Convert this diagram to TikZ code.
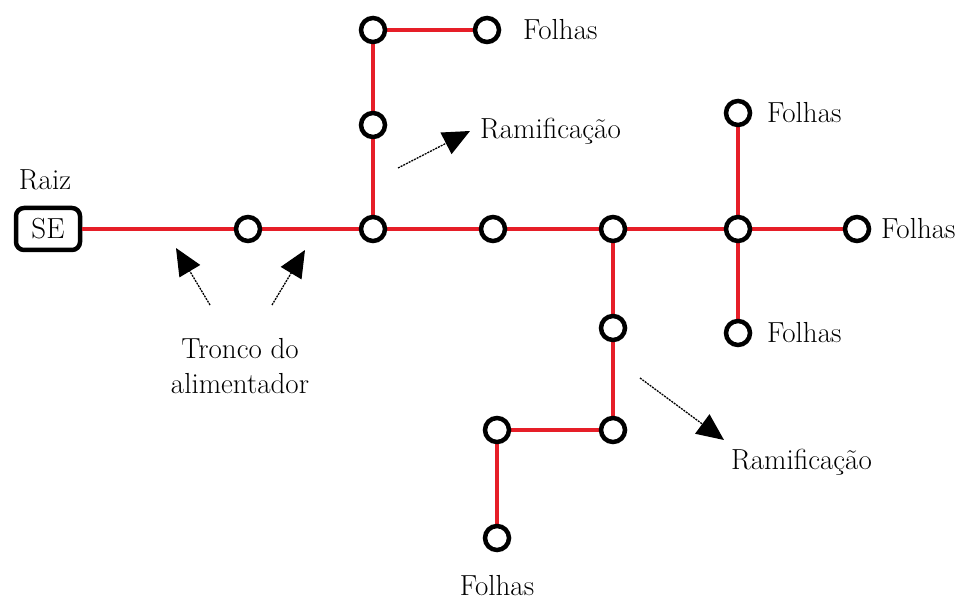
\documentclass[tikz,border=0pt]{standalone}
\usepackage{fontspec}
\newfontfamily\lmfont{Latin Modern Roman}
\usetikzlibrary{arrows.meta}
\definecolor{feeder}{RGB}{230,30,40}
\begin{document}
\begin{tikzpicture}[x=1pt,y=-1pt,
  bus/.style={circle,draw=black,line width=4.5pt,fill=white,minimum size=24pt,inner sep=0pt},
  line/.style={draw=feeder,line width=4pt},
  lbl/.style={font=\lmfont\fontsize{29}{35}\selectfont,inner sep=0pt},
  pointer/.style={line width=1.3pt,dash pattern=on 2pt off 1pt,-{Triangle[length=27pt,width=24pt]}},
  sebox/.style={draw=black,line width=4.5pt,rounded corners=8pt,minimum width=64pt,minimum height=42pt,inner sep=0pt,font=\lmfont\fontsize{29}{35}\selectfont}]
\useasboundingbox (0,0) rectangle (968,601);
% nodes
\node[sebox] (se) at (48,229) {SE};
\coordinate (n1) at (248,229);
\coordinate (n2) at (373,229);
\coordinate (n3) at (493,229);
\coordinate (n4) at (613,229);
\coordinate (n5) at (738,229);
\coordinate (n6) at (857,229);
\coordinate (u1) at (373,125);
\coordinate (u2) at (373,30);
\coordinate (u3) at (487,30);
\coordinate (r1) at (738,113);
\coordinate (r2) at (738,333);
\coordinate (d1) at (613,328);
\coordinate (d2) at (613,430);
\coordinate (d3) at (497,430);
\coordinate (d4) at (497,538);
% lines
\draw[line] (se.east) -- (n1) -- (n2) -- (n3) -- (n4) -- (n5) -- (n6);
\draw[line] (n2) -- (u1) -- (u2) -- (u3);
\draw[line] (r1) -- (n5) -- (r2);
\draw[line] (n4) -- (d1) -- (d2) -- (d3) -- (d4);
% bus circles
\foreach \p in {n1,n2,n3,n4,n5,n6,u1,u2,u3,r1,r2,d1,d2,d3,d4}
  \node[bus] at (\p) {};
% labels
\node[lbl] (raiz) at (45,180) {Raiz};
\node[lbl,anchor=west] (f1) at (523,30) {Folhas};
\node[lbl,anchor=west] (f2) at (767,113) {Folhas};
\node[lbl,anchor=west] (f3) at (881,229) {Folhas};
\node[lbl,anchor=west] (f4) at (767,333) {Folhas};
\node[lbl] (f5) at (497,586) {Folhas};
\node[lbl,anchor=west] (ram1) at (480,131) {Ramificação};
\node[lbl,anchor=west] (ram2) at (731,462) {Ramificação};
\node[lbl,align=center] (tronco) at (240,366) {Tronco do\\alimentador};
% pointer arrows
\coordinate (a1s) at (210,305);
\coordinate (a1e) at (176,248);
\coordinate (a2s) at (272,305);
\coordinate (a2e) at (305,250);
\coordinate (a3s) at (398,168);
\coordinate (a3e) at (470,131);
\coordinate (a4s) at (640,378);
\coordinate (a4e) at (724,440);
\draw[pointer] (a1s) -- (a1e);
\draw[pointer] (a2s) -- (a2e);
\draw[pointer] (a3s) -- (a3e);
\draw[pointer] (a4s) -- (a4e);
\end{tikzpicture}
\end{document}
